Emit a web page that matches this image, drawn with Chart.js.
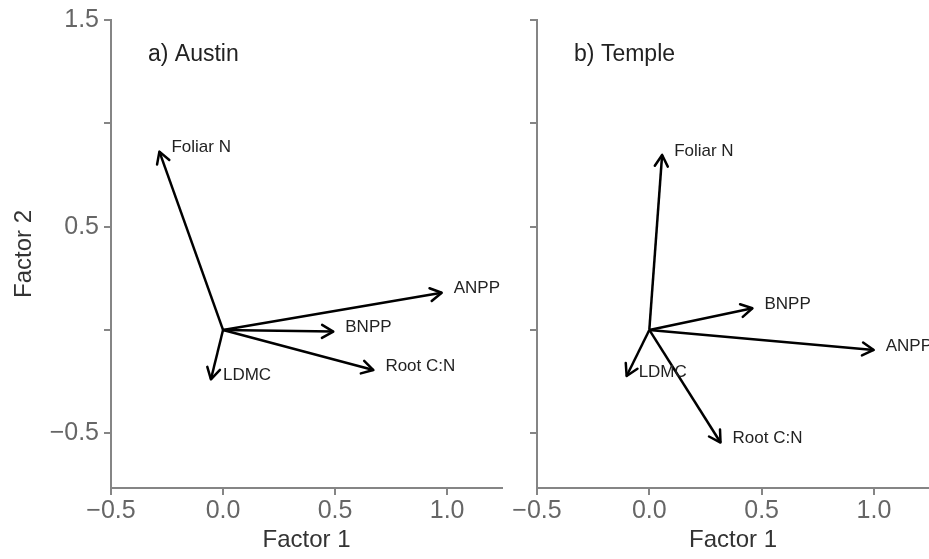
<!DOCTYPE html>
<html>
<head>
<meta charset="utf-8">
<script src="https://cdn.jsdelivr.net/npm/chart.js@4/dist/chart.umd.min.js"></script>
<style>
html,body{margin:0;padding:0;background:#fff;}
#wrap{position:relative;width:929px;height:559px;overflow:hidden;background:#fff;}
canvas{position:absolute;left:0;top:0;}
</style>
</head>
<body>
<div id="wrap">
<canvas id="austin" width="929" height="559"></canvas>
<canvas id="temple" width="929" height="559"></canvas>
</div>
<script>
// ---- data ----
const variables = ['Foliar N', 'ANPP', 'BNPP', 'Root C:N', 'LDMC'];
const austinFactor1 = [-0.284, 0.976, 0.492, 0.671, -0.054];
const austinFactor2 = [0.863, 0.180, -0.008, -0.194, -0.239];
const templeFactor1 = [0.057, 0.999, 0.459, 0.317, -0.101];
const templeFactor2 = [0.847, -0.097, 0.105, -0.545, -0.223];
const xTickValues = [-0.5, 0.0, 0.5, 1.0];
const xTickLabels = ['\u22120.5', '0.0', '0.5', '1.0'];
const yTickValues = [-0.5, 0.0, 0.5, 1.0, 1.5];
const yTickLabels = ['\u22120.5', '', '0.5', '', '1.5'];
const panelTitles = ['a) Austin', 'b) Temple'];
const xAxisTitle = 'Factor 1';
const yAxisTitle = 'Factor 2';

// ---- styling ----
const FONT = '"Liberation Sans", Arial, Helvetica, sans-serif';
Chart.defaults.font.family = FONT;
const AXIS_COLOR = '#858585';
const TICK_LABEL_COLOR = '#666666';

const arrowPlugin = {
  id: 'biplotArrows',
  afterDatasetsDraw(chart, args, opts) {
    const ctx = chart.ctx;
    chart.data.datasets.forEach((ds, i) => {
      const meta = chart.getDatasetMeta(i);
      const p0 = meta.data[0], p1 = meta.data[1];
      const ang = Math.atan2(p1.y - p0.y, p1.x - p0.x);
      const L = 13, a = Math.PI / 6;
      ctx.save();
      ctx.strokeStyle = '#000';
      ctx.lineWidth = 2.5;
      ctx.lineCap = 'round';
      ctx.lineJoin = 'round';
      ctx.beginPath();
      ctx.moveTo(p1.x - L * Math.cos(ang - a), p1.y - L * Math.sin(ang - a));
      ctx.lineTo(p1.x, p1.y);
      ctx.lineTo(p1.x - L * Math.cos(ang + a), p1.y - L * Math.sin(ang + a));
      ctx.stroke();
      ctx.fillStyle = '#222';
      ctx.font = '17px ' + FONT;
      ctx.textAlign = 'left';
      ctx.textBaseline = 'middle';
      ctx.fillText(ds.label, p1.x + 12, p1.y - 4);
      ctx.restore();
    });
    // panel title
    const xs = chart.scales.x, ys = chart.scales.y;
    ctx.save();
    ctx.fillStyle = '#222';
    ctx.font = '23px ' + FONT;
    ctx.textAlign = 'left';
    ctx.textBaseline = 'middle';
    ctx.fillText(opts.title, xs.getPixelForValue(opts.tx), ys.getPixelForValue(opts.ty));
    ctx.restore();
  }
};

function makePanel(id, title, f1, f2, plotLeft, plotRight, showY) {
  const datasets = variables.map((v, i) => ({
    label: v,
    data: [{x: 0, y: 0}, {x: f1[i], y: f2[i]}],
    showLine: true,
    borderColor: '#000',
    borderWidth: 2.5,
    pointRadius: 0,
    pointHoverRadius: 0,
    fill: false
  }));
  return new Chart(document.getElementById(id), {
    type: 'scatter',
    data: {datasets},
    plugins: [arrowPlugin],
    options: {
      responsive: false,
      animation: false,
      devicePixelRatio: 1,
      layout: {padding: {left: 0, top: 20, right: 929 - plotRight, bottom: 0}},
      plugins: {
        legend: {display: false},
        tooltip: {enabled: false},
        biplotArrows: {title: title, tx: -0.335, ty: 1.33}
      },
      scales: {
        x: {
          type: 'linear',
          min: -0.5,
          max: 1.245,
          afterBuildTicks: s => { s.ticks = xTickValues.map(v => ({value: v})); },
          afterFit: s => { s.height = 71; },
          ticks: {
            callback: (v, i) => xTickLabels[i],
            font: {size: 25},
            color: TICK_LABEL_COLOR,
            padding: 1,
            maxRotation: 0,
            autoSkip: false
          },
          grid: {drawOnChartArea: false, drawTicks: true, tickLength: 7, color: AXIS_COLOR, lineWidth: 2},
          border: {display: true, color: AXIS_COLOR, width: 2},
          title: {display: true, text: xAxisTitle, font: {size: 24}, color: '#333', padding: {top: 0, bottom: 4}}
        },
        y: {
          type: 'linear',
          min: -0.765,
          max: 1.5,
          afterBuildTicks: s => { s.ticks = yTickValues.map(v => ({value: v})); },
          afterFit: s => { s.width = plotLeft; },
          ticks: {
            callback: (v, i) => showY ? yTickLabels[i] : '',
            font: {size: 25},
            color: TICK_LABEL_COLOR,
            padding: 5,
            autoSkip: false
          },
          grid: {drawOnChartArea: false, drawTicks: true, tickLength: 7, color: AXIS_COLOR, lineWidth: 2},
          border: {display: true, color: AXIS_COLOR, width: 2},
          title: {display: showY, text: yAxisTitle, font: {size: 24}, color: '#333', padding: {top: 10, bottom: 0}}
        }
      }
    }
  });
}

makePanel('austin', panelTitles[0], austinFactor1, austinFactor2, 111, 502, true);
makePanel('temple', panelTitles[1], templeFactor1, templeFactor2, 537, 929, false);
</script>
</body>
</html>
